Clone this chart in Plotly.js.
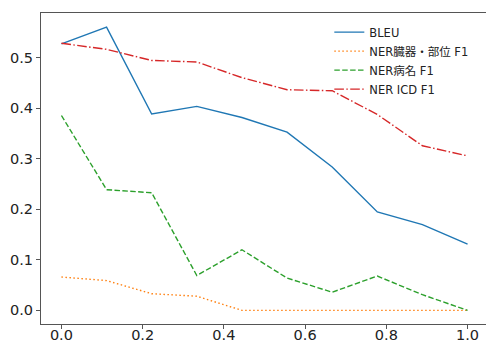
<!DOCTYPE html>
<html>
<head>
<meta charset="utf-8">
<script src="https://cdn.plot.ly/plotly-3.0.1.min.js"></script>
<style>
html, body { margin: 0; padding: 0; overflow: hidden; background: #fff; }
#chart { width: 500px; height: 356px; }
</style>
</head>
<body>
<div id="chart"></div>
<script>
const xValues = [0, 1/9, 2/9, 3/9, 4/9, 5/9, 6/9, 7/9, 8/9, 1];
const seriesNames = ["BLEU", "NER臓器・部位 F1", "NER病名 F1", "NER ICD F1"];
const bleu = [0.528, 0.561, 0.389, 0.404, 0.382, 0.353, 0.284, 0.195, 0.170, 0.131];
const nerOrgan = [0.066, 0.059, 0.033, 0.028, 0.0, 0.0, 0.0, 0.0, 0.0, 0.0];
const nerDisease = [0.386, 0.239, 0.233, 0.069, 0.120, 0.064, 0.036, 0.068, 0.031, 0.0];
const nerIcd = [0.529, 0.517, 0.495, 0.492, 0.461, 0.437, 0.435, 0.388, 0.326, 0.306];
const xTickVals = [0.0, 0.2, 0.4, 0.6, 0.8, 1.0];
const yTickVals = [0.0, 0.1, 0.2, 0.3, 0.4, 0.5];

const colors = ["#1f77b4", "#ff7f0e", "#2ca02c", "#d62728"];
const dashes = ["solid", "1.5px,2.5px", "5.5px,2.4px", "9.6px,2.4px,1.5px,2.4px"];
const data = [bleu, nerOrgan, nerDisease, nerIcd].map((ys, i) => ({
  x: xValues, y: ys, type: "scatter", mode: "lines", name: seriesNames[i],
  line: { color: colors[i], width: 1.4, dash: dashes[i] }
}));

const font = "'DejaVu Sans', 'Noto Sans CJK JP', sans-serif";
const layout = {
  width: 500, height: 356,
  margin: { l: 41, r: 12, t: 13, b: 32 },
  paper_bgcolor: "#fff", plot_bgcolor: "#fff",
  showlegend: true,
  legend: {
    x: 0.645, y: 0.985, xanchor: "left", yanchor: "top",
    bgcolor: "rgba(255,255,255,0)", borderwidth: 0,
    font: { family: font, size: 11.5, color: "#222" },
    tracegroupgap: 0
  },
  xaxis: {
    range: [-0.0503, 1.0503],
    tickvals: xTickVals, tickformat: ".1f",
    showgrid: false, zeroline: false,
    showline: true, mirror: true, linecolor: "#555", linewidth: 1,
    ticks: "outside", ticklen: 4, tickcolor: "#555", tickwidth: 1,
    ticklabelstandoff: -6,
    tickfont: { family: font, size: 14.5, color: "#222" }
  },
  yaxis: {
    range: [-0.027, 0.589],
    tickvals: yTickVals, tickformat: ".1f",
    showgrid: false, zeroline: false,
    showline: true, mirror: true, linecolor: "#555", linewidth: 1,
    ticks: "outside", ticklen: 4, tickcolor: "#555", tickwidth: 1,
    tickfont: { family: font, size: 14.5, color: "#222" }
  }
};

Plotly.newPlot("chart", data, layout, { displayModeBar: false, staticPlot: true });
</script>
</body>
</html>
